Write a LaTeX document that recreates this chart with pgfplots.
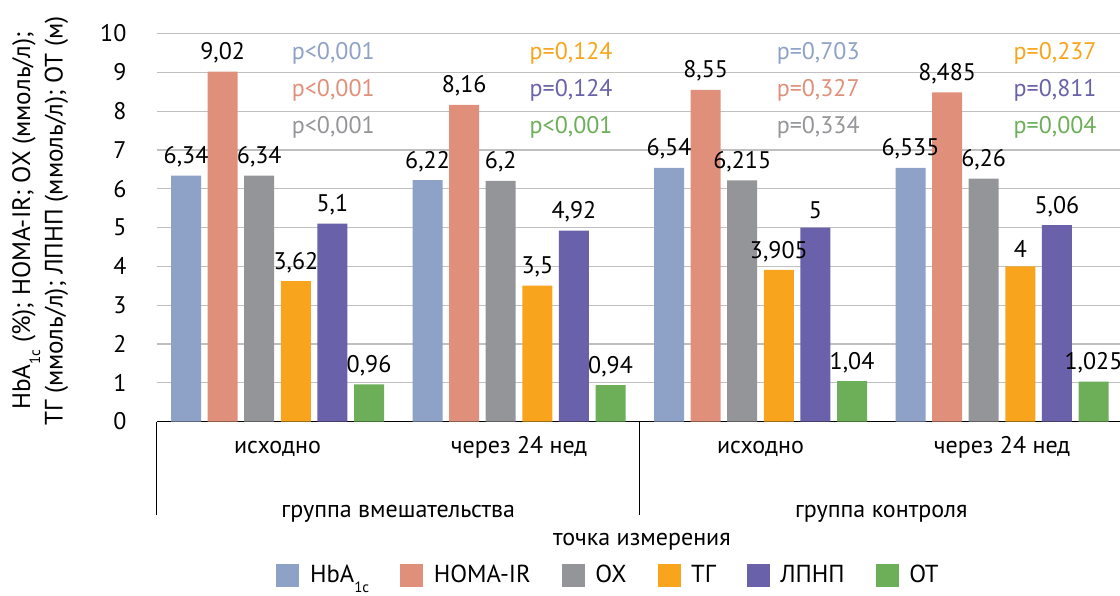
\documentclass[border=0pt]{standalone}
\usepackage{pgfplots}
\pgfplotsset{compat=1.18}
\usepackage{fontspec}
\setmainfont{PT Sans}
\definecolor{hba}{HTML}{8EA1C7}
\definecolor{homa}{HTML}{E0907A}
\definecolor{ox}{HTML}{949598}
\definecolor{tg}{HTML}{F8A51D}
\definecolor{lpnp}{HTML}{6961A9}
\definecolor{ot}{HTML}{6CAF58}
\definecolor{gridc}{HTML}{C0C0C0}
\pgfplotsset{
  /pgf/number format/assume math mode=true,
  sq/.style={fill=#1, draw=none,
    legend image code/.code={\fill[#1] (0pt,-5.75pt) rectangle (11.5pt,5.75pt);}},
}
\newcommand{\mf}{\fontsize{12}{14}\selectfont}
\newcommand{\sub}{\raisebox{-0.8ex}{\fontsize{7.5}{8}\selectfont 1c}}
\begin{document}
\mf
\begin{tikzpicture}[font=\mf]
\path[use as bounding box] (-78.4pt,-86.75pt) rectangle (481.6pt,210.75pt);
\begin{axis}[
  at={(0,0)}, anchor=south west,
  scale only axis, width=481.6pt, height=194pt,
  xmin=-0.5, xmax=3.4886, ymin=0, ymax=10,
  ybar=3.3pt, bar width=15pt,
  axis x line*=bottom, axis y line*=left,
  x axis line style={black, line width=0.65pt},
  y axis line style={draw=none},
  xtick=\empty,
  ytick={0,1,...,10},
  ymajorgrids, grid style={gridc, line width=0.6pt},
  major tick length=0pt,
  yticklabel style={xshift=-11pt, font=\mf},
  clip=false,
  nodes near coords,
  /pgf/number format/.cd, fixed, precision=3, use comma, 1000 sep={},
  /pgfplots/.cd,
  every node near coord/.append style={text=black, font=\mf},
  legend columns=6,
  legend style={draw=none, fill=none, at={(0.470,-0.397)}, anchor=center,
    font=\fontsize{12.3}{14}\selectfont,
    /tikz/every odd column/.append style={column sep=3.3pt},
    /tikz/every even column/.append style={column sep=13.5pt}},
]
\addplot[sq=hba] coordinates {(0,6.34) (1,6.22) (2,6.54) (3,6.535)};
\addplot[sq=homa] coordinates {(0,9.02) (1,8.16) (2,8.55) (3,8.485)};
\addplot[sq=ox] coordinates {(0,6.34) (1,6.2) (2,6.215) (3,6.26)};
\addplot[sq=tg] coordinates {(0,3.62) (1,3.5) (2,3.905) (3,4)};
\addplot[sq=lpnp] coordinates {(0,5.1) (1,4.92) (2,5) (3,5.06)};
\addplot[sq=ot] coordinates {(0,0.96) (1,0.94) (2,1.04) (3,1.025)};
\legend{HbA\sub, HOMA-IR, ОХ, ТГ, ЛПНП, ОТ}

% p-values
\tikzset{pv/.style={anchor=east, inner sep=0pt, text=#1}}
\node[pv=hba]  at (axis cs:0.404,9.50) {p<0,001};
\node[pv=homa] at (axis cs:0.404,8.54) {p<0,001};
\node[pv=ox]   at (axis cs:0.404,7.59) {p<0,001};
\node[pv=tg]   at (axis cs:1.389,9.50) {p=0,124};
\node[pv=lpnp] at (axis cs:1.389,8.54) {p=0,124};
\node[pv=ot]   at (axis cs:1.389,7.59) {p<0,001};
\node[pv=hba]  at (axis cs:2.412,9.50) {p=0,703};
\node[pv=homa] at (axis cs:2.412,8.54) {p=0,327};
\node[pv=ox]   at (axis cs:2.412,7.59) {p=0,334};
\node[pv=tg]   at (axis cs:3.393,9.50) {p=0,237};
\node[pv=lpnp] at (axis cs:3.393,8.54) {p=0,811};
\node[pv=ot]   at (axis cs:3.393,7.59) {p=0,004};

% category labels
\node[anchor=base] at ([yshift=-15.75pt]axis cs:0,0) {исходно};
\node[anchor=base] at ([yshift=-15.75pt]axis cs:1,0) {через 24 нед};
\node[anchor=base] at ([yshift=-15.75pt]axis cs:2,0) {исходно};
\node[anchor=base] at ([yshift=-15.75pt]axis cs:3,0) {через 24 нед};
\node[anchor=base] at ([yshift=-47.75pt]axis cs:0.5,0) {группа вмешательства};
\node[anchor=base] at ([yshift=-47.75pt]axis cs:2.5,0) {группа контроля};
\draw[black, line width=0.65pt] (axis cs:-0.5,0) -- ([yshift=-46.75pt]axis cs:-0.5,0);
\draw[black, line width=0.65pt] (axis cs:1.5,0) -- ([yshift=-46.75pt]axis cs:1.5,0);
\node[anchor=base] at ([yshift=-61.75pt]axis cs:1.509,0) {точка измерения};

% y label
\node[rotate=90, align=center, font=\fontsize{12.6}{16.3}\selectfont]
  at ([xshift=-58.3pt]axis description cs:0,0.517)
  {HbA\sub{} (\%); HOMA-IR; ОХ (ммоль/л);\\ТГ (ммоль/л); ЛПНП (ммоль/л); ОТ (м)};
\end{axis}
\end{tikzpicture}
\end{document}
